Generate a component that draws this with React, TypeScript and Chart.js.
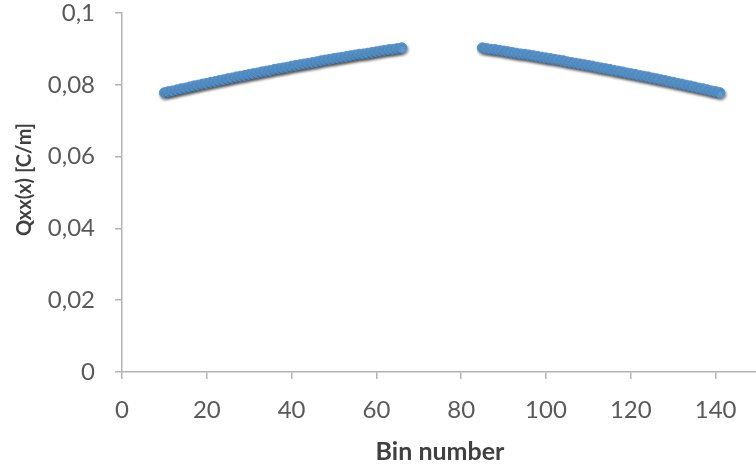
import React, { useEffect, useRef } from "react";
import { Chart, registerables } from "chart.js";

Chart.register(...registerables);

// Bin numbers and Qxx(x) values
const binsLeft = [
  10, 11, 12, 13, 14, 15, 16, 17, 18, 19,
  20, 21, 22, 23, 24, 25, 26, 27, 28, 29,
  30, 31, 32, 33, 34, 35, 36, 37, 38, 39,
  40, 41, 42, 43, 44, 45, 46, 47, 48, 49,
  50, 51, 52, 53, 54, 55, 56, 57, 58, 59,
  60, 61, 62, 63, 64, 65, 66,
];
const valuesLeft = [
  0.0778, 0.0781, 0.0783, 0.0786, 0.0789, 0.0791, 0.0794, 0.0797, 0.0799, 0.0802,
  0.0804, 0.0807, 0.0809, 0.0812, 0.0814, 0.0817, 0.0819, 0.0822, 0.0824, 0.0826,
  0.0829, 0.0831, 0.0833, 0.0836, 0.0838, 0.0840, 0.0843, 0.0845, 0.0847, 0.0849,
  0.0852, 0.0854, 0.0856, 0.0858, 0.0860, 0.0862, 0.0864, 0.0867, 0.0869, 0.0871,
  0.0873, 0.0875, 0.0877, 0.0879, 0.0881, 0.0883, 0.0885, 0.0886, 0.0888, 0.0890,
  0.0892, 0.0894, 0.0896, 0.0898, 0.0899, 0.0901, 0.0903,
];
const binsRight = [
  85, 86, 87, 88, 89, 90, 91, 92, 93, 94,
  95, 96, 97, 98, 99, 100, 101, 102, 103, 104,
  105, 106, 107, 108, 109, 110, 111, 112, 113, 114,
  115, 116, 117, 118, 119, 120, 121, 122, 123, 124,
  125, 126, 127, 128, 129, 130, 131, 132, 133, 134,
  135, 136, 137, 138, 139, 140, 141,
];
const valuesRight = [
  0.0903, 0.0901, 0.0899, 0.0898, 0.0896, 0.0894, 0.0892, 0.0890, 0.0888, 0.0886,
  0.0885, 0.0883, 0.0881, 0.0879, 0.0877, 0.0875, 0.0873, 0.0871, 0.0869, 0.0867,
  0.0864, 0.0862, 0.0860, 0.0858, 0.0856, 0.0854, 0.0852, 0.0849, 0.0847, 0.0845,
  0.0843, 0.0840, 0.0838, 0.0836, 0.0833, 0.0831, 0.0829, 0.0826, 0.0824, 0.0822,
  0.0819, 0.0817, 0.0814, 0.0812, 0.0809, 0.0807, 0.0804, 0.0802, 0.0799, 0.0797,
  0.0794, 0.0791, 0.0789, 0.0786, 0.0783, 0.0781, 0.0778,
];

const xTicks = [0, 20, 40, 60, 80, 100, 120, 140];
const yTicks = [0, 0.02, 0.04, 0.06, 0.08, 0.1];
const xTitle = "Bin number";
const yTitle = "Qxx(x) [C/m]";

const FONT = "Lato, 'Open Sans', sans-serif";
const AXIS_COLOR = "#b3b3b3";
const TICK_COLOR = "#595959";
const TITLE_COLOR = "#404040";

const shadowPlugin = {
  id: "pointShadow",
  beforeDatasetsDraw(chart: any) {
    const ctx = chart.ctx;
    ctx.save();
    ctx.shadowColor = "rgba(0,0,0,0.45)";
    ctx.shadowBlur = 3;
    ctx.shadowOffsetX = 1;
    ctx.shadowOffsetY = 2;
  },
  afterDatasetsDraw(chart: any) {
    chart.ctx.restore();
  },
};

// y-axis title drawn slightly above the plot centre, as in the reference
const yTitlePlugin = {
  id: "yTitle",
  afterDraw(chart: any) {
    const ctx = chart.ctx;
    const area = chart.chartArea;
    ctx.save();
    ctx.translate(25, (area.top + area.bottom) / 2 - 13);
    ctx.rotate(-Math.PI / 2);
    ctx.font = `bold 20px ${FONT}`;
    ctx.fillStyle = TITLE_COLOR;
    ctx.textAlign = "center";
    ctx.textBaseline = "middle";
    ctx.fillText(yTitle, 0, 0);
    ctx.restore();
  },
};

function fmtY(v: number) {
  if (v === 0) return "0";
  return String(parseFloat(v.toFixed(2))).replace(".", ",");
}

export default function App() {
  const ref = useRef<HTMLCanvasElement | null>(null);

  useEffect(() => {
    if (!ref.current) return;
    const toPts = (xs: number[], ys: number[]) => xs.map((x, i) => ({ x, y: ys[i] }));
    const pointStyle = {
      backgroundColor: "#5B9BD5",
      borderColor: "#5393D0",
      borderWidth: 1,
      pointRadius: 5,
      pointHoverRadius: 5,
      showLine: false,
    };
    const chart = new Chart(ref.current, {
      type: "scatter",
      data: {
        datasets: [
          { label: "left", data: toPts(binsLeft, valuesLeft), ...pointStyle },
          { label: "right", data: toPts(binsRight, valuesRight), ...pointStyle },
        ],
      },
      options: {
        responsive: false,
        animation: false,
        layout: { padding: { top: 13, left: 0, right: 0, bottom: 0 } },
        plugins: {
          legend: { display: false },
          tooltip: { enabled: false },
        },
        scales: {
          x: {
            type: "linear",
            min: 0,
            max: 150,
            afterBuildTicks: (scale: any) => {
              scale.ticks = xTicks.map((v) => ({ value: v }));
            },
            afterFit: (scale: any) => {
              scale.height = 97;
              scale.paddingLeft = 0;
              scale.paddingRight = 0;
            },
            grid: {
              drawOnChartArea: false,
              drawTicks: true,
              tickLength: 7,
              color: AXIS_COLOR,
              lineWidth: 1.5,
            },
            border: { display: true, color: AXIS_COLOR, width: 1.5 },
            ticks: {
              padding: 17,
              color: TICK_COLOR,
              font: { family: FONT, size: 24 },
              maxRotation: 0,
              callback: (v: any) => String(v),
            },
            title: {
              display: true,
              text: xTitle,
              color: TITLE_COLOR,
              font: { family: FONT, size: 25, weight: "bold" },
              padding: { top: 0, bottom: 2 },
            },
          },
          y: {
            type: "linear",
            min: 0,
            max: 0.1,
            afterBuildTicks: (scale: any) => {
              scale.ticks = yTicks.map((v) => ({ value: v }));
            },
            afterFit: (scale: any) => {
              scale.width = 122;
              scale.paddingTop = 0;
              scale.paddingBottom = 0;
            },
            grid: {
              drawOnChartArea: false,
              drawTicks: true,
              tickLength: 7,
              color: AXIS_COLOR,
              lineWidth: 1.5,
            },
            border: { display: true, color: AXIS_COLOR, width: 1.5 },
            ticks: {
              padding: 20,
              color: TICK_COLOR,
              font: { family: FONT, size: 24 },
              callback: (v: any) => fmtY(Number(v)),
            },
            title: { display: false },
          },
        },
      },
      plugins: [shadowPlugin, yTitlePlugin],
    });
    return () => chart.destroy();
  }, []);

  return (
    <div
      style={{
        position: "fixed",
        left: 0,
        top: 0,
        width: 756,
        height: 469,
        overflow: "hidden",
        background: "#ffffff",
      }}
    >
      <canvas ref={ref} width={764} height={469} style={{ display: "block" }} />
    </div>
  );
}
